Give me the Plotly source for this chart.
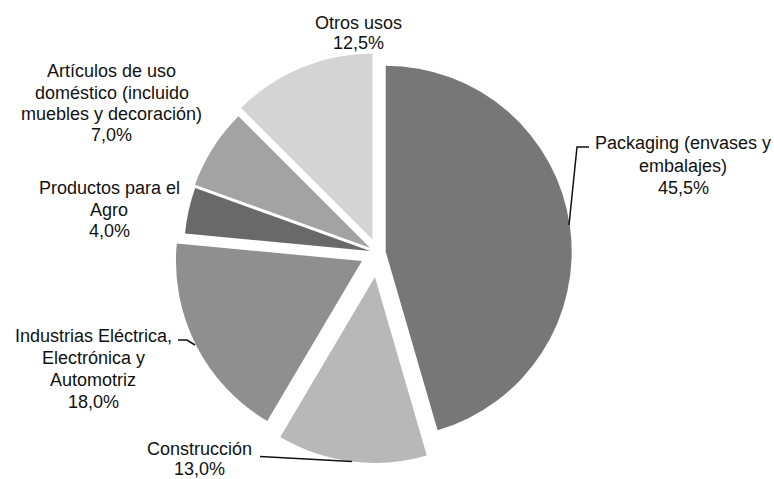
import plotly.graph_objects as go

W, H = 774, 479

# ---- data ----
categories = [
    "Packaging (envases y embalajes)",
    "Construcción",
    "Industrias Eléctrica, Electrónica y Automotriz",
    "Productos para el Agro",
    "Artículos de uso doméstico (incluido muebles y decoración)",
    "Otros usos",
]
values = [45.5, 13.0, 18.0, 4.0, 7.0, 12.5]
label_lines = [
    ["Packaging (envases y", "embalajes)"],
    ["Construcción"],
    ["Industrias Eléctrica,", "Electrónica y", "Automotriz"],
    ["Productos para el", "Agro"],
    ["Artículos de uso", "doméstico (incluido", "muebles y decoración)"],
    ["Otros usos"],
]

# ---- styles ----
colors = ["#777777", "#b8b8b8", "#8f8f8f", "#696969", "#a3a3a3", "#d4d4d4"]
pulls = [0.042, 0.131, 0.097, 0.043, 0.051, 0.077]
# label placement: (center x px, first line y px, line spacing px)
label_pos = [
    (683, 143, 22.5),
    (200, 448.5, 20),
    (93, 336, 22),
    (109, 188, 21.5),
    (112, 71, 21.5),
    (358, 23, 20.5),
]
leaders = [
    [(589, 147), (577, 147), (569, 225)],
    [(260, 456.5), (352, 461.5)],
    [(178, 340), (187, 340), (195, 345)],
]

def px(x):
    return x / W

def py(y):
    return 1 - y / H

def fmt(v):
    return f"{v:.1f}".replace(".", ",") + "%"

fig = go.Figure(go.Pie(
    labels=categories,
    values=values,
    sort=False,
    direction="clockwise",
    rotation=0,
    pull=pulls,
    marker=dict(colors=colors, line=dict(width=0)),
    textinfo="none",
    hoverinfo="label+percent",
    domain=dict(x=[0.2166, 0.7601], y=[0.0331, 0.9114]),
    showlegend=False,
))

annotations = []
for lines, v, (cx, y0, sp) in zip(label_lines, values, label_pos):
    for i, t in enumerate(lines + [fmt(v)]):
        annotations.append(dict(
            x=px(cx), y=py(y0 + i * sp), xref="paper", yref="paper",
            text=t, showarrow=False, xanchor="center", yanchor="middle",
            borderpad=0,
            font=dict(family="Liberation Sans, Arial, sans-serif", size=18, color="#111111"),
        ))

shapes = []
for pts in leaders:
    path = "M " + " L ".join(f"{px(x)},{py(y)}" for x, y in pts)
    shapes.append(dict(type="path", xref="paper", yref="paper", path=path,
                       line=dict(color="#111111", width=1.5)))

fig.update_layout(
    width=W, height=H,
    margin=dict(l=0, r=0, t=0, b=0),
    paper_bgcolor="white", plot_bgcolor="white",
    annotations=annotations,
    shapes=shapes,
)

fig.write_html(
    "out.html",
    config={"displayModeBar": False},
    post_script="document.body.style.margin='0';document.body.style.overflow='hidden';",
)
